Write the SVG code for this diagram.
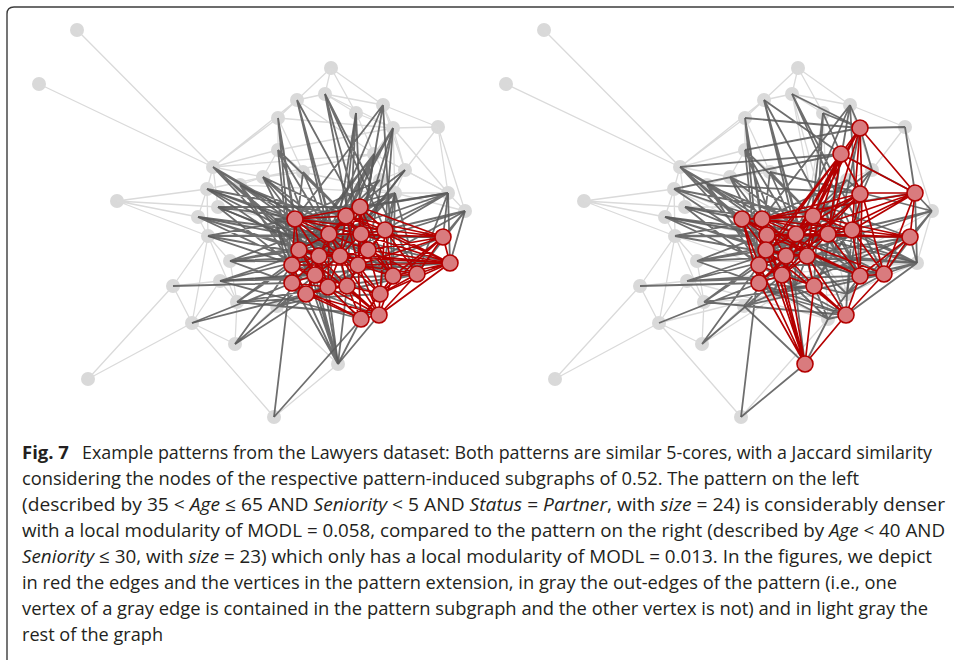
<svg xmlns="http://www.w3.org/2000/svg" width="954" height="660" viewBox="0 0 954 660">
<style>
.lt{fill:none;stroke:#dadada;stroke-width:1.3}
.dk{fill:none;stroke:#5a5a5a;stroke-width:1.8;stroke-opacity:.88}
.rd{fill:none;stroke:#b40000;stroke-width:1.7}
.gn{fill:#d9d9d9}
.rn{fill:#d97b7e;stroke:#b40000;stroke-width:1.6}
.frame{fill:none;stroke:#3c3c3c;stroke-width:1.4}
.cap{font-family:"Open Sans","Liberation Sans",sans-serif;font-size:18.5px;fill:#231f20}
.b{font-weight:bold}
.i{font-style:italic}
</style>
<defs>
<!-- edge sets, grouped by how their endpoints relate to the two patterns -->
<path id="e-pp" d="M77 30L213 167M39 84L213 167M331 68L297 100M331 68L325 94M331 68L356 113M331 68L383 105M325 94L297 100M325 94L356 113M297 100L278 118M278 118L213 167M278 118L278 150M278 150L213 167M438 127L405 170M438 127L465 211M383 105L438 127M405 170L380 180M213 167L207 189M213 167L218 207M213 167L240 185M117 201L207 189M117 201L198 217M117 201L218 207M207 189L198 217M198 217L208 236M208 236L230 261M208 236L173 286M173 286L220 281M173 286L192 323M192 323L88 379M173 286L88 379M192 323L235 344M192 323L274 417M208 236L237 302M230 261L237 302M220 281L237 302M237 302L277 306M303 172L263 177M263 177L240 185M278 150L303 172M278 118L303 172M213 167L263 177M383 105L405 170M213 167L297 100M207 189L208 236M208 236L192 323M117 201L208 236M220 281L192 323M237 302L235 344M277 306L235 344M278 150L263 177M325 94L383 105"/>
<path id="e-pro" d="M383 105L393 128M356 113L393 128M393 128L438 127M438 127L448 193M405 170L448 193M448 193L465 211M277 306L338 364M274 417L338 364M405 170L395 193M395 193L465 211M393 128L405 170M356 113L374 154M374 154L405 170M218 207L275 219M198 217L300 235M325 94L393 128M278 150L393 128M213 167L374 154M263 177L374 154M207 189L374 154M240 185L395 193M278 118L393 128M297 100L374 154M380 180L395 193M303 172L395 193"/>
<path id="e-roro" d="M395 193L448 193M300 235L275 219M393 128L374 154M393 128L395 193M393 128L448 193M374 154L395 193M374 154L448 193M338 364L300 235"/>
<path id="e-pb" d="M297 100L329 234M297 100L340 256M297 100L347 286M325 94L385 230M383 105L319 256M383 105L361 234M383 105L295 219M356 113L340 256M278 118L295 219M278 118L299 250M278 118L292 265M278 150L319 256M278 150L329 234M278 150L292 283M405 170L340 256M405 170L299 250M303 172L292 265M303 172L361 234M303 172L340 256M263 177L346 216M263 177L393 276M380 180L319 256M380 180L295 219M380 180L292 265M240 185L361 234M240 185L340 256M213 167L329 234M213 167L347 286M213 167L315 275M207 189L346 216M198 217L393 276M198 217L347 286M218 207L385 230M208 236L443 237M208 236L417 274M230 261L385 230M230 261L379 315M220 281L393 276M173 286L292 283M237 302L417 274M237 302L379 315M277 306L443 237M277 306L417 274M277 306L379 315M235 344L292 265M274 417L292 265M465 211L299 250M465 211L292 265M465 211L443 237M465 211L417 274M207 189L295 219M207 189L299 250M198 217L319 256M198 217L329 234M218 207L292 265M218 207L340 256M208 236L295 219M208 236L319 256M208 236L361 234M230 261L299 250M230 261L346 216M230 261L340 256M220 281L315 275M220 281L319 256M220 281L361 234M237 302L292 265M237 302L329 234M263 177L299 250M263 177L295 219M240 185L292 265M240 185L315 275M213 167L295 219M213 167L319 256M277 306L319 256M235 344L315 275M192 323L292 283M303 172L346 216M278 150L346 216M297 100L393 276M325 94L417 274M383 105L393 276M356 113L347 286"/>
<path id="e-plo" d="M325 94L368 250M325 94L358 265M356 113L360 207M356 113L328 287M405 170L306 294M263 177L358 265M240 185L368 250M207 189L358 265M207 189L368 250M465 211L328 287M465 211L450 263M198 217L368 250M218 207L358 265M218 207L360 207M208 236L380 294M230 261L450 263M220 281L450 263M220 281L361 319M237 302L380 294M192 323L306 294M235 344L358 265M274 417L361 319"/>
<path id="e-bro" d="M393 128L329 234M393 128L346 216M393 128L315 275M374 154L346 216M374 154L299 250M374 154L292 265M395 193L295 219M395 193L299 250M395 193L315 275M395 193L292 283M448 193L295 219M448 193L329 234M448 193L319 256M275 219L417 274M275 219L393 276M300 235L443 237M300 235L393 276M338 364L319 256M338 364L292 265M338 364L315 275M338 364L292 283M338 364L347 286M338 364L295 219M338 364L299 250M374 154L361 234M374 154L319 256M374 154L340 256M374 154L329 234M395 193L385 230M395 193L393 276M395 193L417 274M448 193L417 274M448 193L443 237M275 219L295 219M275 219L299 250M275 219L292 265M275 219L292 283M275 219L346 216M300 235L295 219M300 235L299 250M300 235L292 265M300 235L329 234M338 364L379 315M393 128L385 230M448 193L385 230M395 193L346 216M393 128L361 234"/>
<path id="e-loro" d="M448 193L450 263M275 219L450 263M338 364L328 287M338 364L361 319M374 154L358 265M395 193L380 294M393 128L368 250M448 193L360 207"/>
<path id="e-bb" d="M295 219L346 216M295 219L329 234M295 219L299 250M295 219L319 256M295 219L292 265M295 219L361 234M295 219L340 256M295 219L443 237M346 216L329 234M346 216L361 234M346 216L385 230M346 216L340 256M346 216L319 256M346 216L443 237M329 234L361 234M329 234L319 256M329 234L340 256M329 234L299 250M329 234L443 237M361 234L385 230M361 234L340 256M361 234L443 237M361 234L393 276M385 230L443 237M385 230L393 276M385 230L417 274M443 237L393 276M443 237L417 274M299 250L319 256M299 250L292 265M299 250L315 275M299 250L340 256M299 250L292 283M319 256L340 256M319 256L292 265M319 256L315 275M319 256L347 286M319 256L292 283M340 256L347 286M340 256L315 275M292 265L315 275M292 265L292 283M315 275L292 283M315 275L347 286M393 276L417 274M393 276L379 315M417 274L379 315M347 286L379 315M379 315L340 256M379 315L299 250"/>
<path id="e-blo" d="M295 219L360 207M346 216L360 207M346 216L368 250M346 216L358 265M346 216L450 263M360 207L361 234M360 207L385 230M360 207L443 237M360 207L340 256M360 207L329 234M360 207L393 276M329 234L368 250M329 234L358 265M329 234L328 287M361 234L368 250M361 234L358 265M361 234L450 263M385 230L368 250M385 230L450 263M385 230L358 265M385 230L380 294M443 237L450 263M443 237L368 250M443 237L358 265M443 237L380 294M299 250L328 287M299 250L450 263M319 256L328 287M319 256L306 294M319 256L450 263M340 256L368 250M340 256L358 265M340 256L328 287M340 256L380 294M368 250L393 276M368 250L417 274M368 250L347 286M292 265L306 294M292 265L358 265M292 265L328 287M358 265L393 276M358 265L347 286M358 265L417 274M358 265L379 315M450 263L393 276M450 263L417 274M450 263L379 315M315 275L328 287M315 275L306 294M315 275L361 319M393 276L380 294M393 276L361 319M417 274L380 294M292 283L306 294M292 283L328 287M292 283L361 319M328 287L347 286M328 287L379 315M347 286L380 294M347 286L361 319M347 286L306 294M306 294L379 315M380 294L379 315M361 319L379 315"/>
<path id="e-lolo" d="M360 207L368 250M360 207L358 265M368 250L358 265M368 250L450 263M368 250L380 294M358 265L380 294M358 265L450 263M358 265L361 319M450 263L380 294M328 287L306 294M328 287L361 319M306 294L361 319M380 294L361 319"/>
</defs>

<path class="frame" d="M7 660V14Q7 7 14 7H954"/>

<!-- left graph: pattern 35 < Age <= 65, Seniority < 5, Status = Partner -->
<g id="graph-left">
<g id="nodes-left-gray">
<g id="l-G1"><circle class="gn" cx="77" cy="30" r="7"/></g>
<g id="l-G2"><circle class="gn" cx="39" cy="84" r="7"/></g>
<g id="l-G3"><circle class="gn" cx="331" cy="68" r="7"/></g>
<g id="l-G4"><circle class="gn" cx="325" cy="94" r="7"/></g>
<g id="l-G5"><circle class="gn" cx="297" cy="100" r="7"/></g>
<g id="l-G6"><circle class="gn" cx="383" cy="105" r="7"/></g>
<g id="l-G7"><circle class="gn" cx="356" cy="113" r="7"/></g>
<g id="l-G8"><circle class="gn" cx="278" cy="118" r="7"/></g>
<g id="l-N9"><circle class="gn" cx="393" cy="128" r="7"/></g>
<g id="l-G10"><circle class="gn" cx="438" cy="127" r="7"/></g>
<g id="l-G11"><circle class="gn" cx="278" cy="150" r="7"/></g>
<g id="l-Nb"><circle class="gn" cx="374" cy="154" r="7"/></g>
<g id="l-G12"><circle class="gn" cx="213" cy="167" r="7"/></g>
<g id="l-G13"><circle class="gn" cx="405" cy="170" r="7"/></g>
<g id="l-G14"><circle class="gn" cx="303" cy="172" r="7"/></g>
<g id="l-G15"><circle class="gn" cx="263" cy="177" r="7"/></g>
<g id="l-H1"><circle class="gn" cx="380" cy="180" r="7"/></g>
<g id="l-G17"><circle class="gn" cx="240" cy="185" r="7"/></g>
<g id="l-G16"><circle class="gn" cx="207" cy="189" r="7"/></g>
<g id="l-Nc"><circle class="gn" cx="395" cy="193" r="7"/></g>
<g id="l-N19"><circle class="gn" cx="448" cy="193" r="7"/></g>
<g id="l-G18"><circle class="gn" cx="117" cy="201" r="7"/></g>
<g id="l-G22"><circle class="gn" cx="218" cy="207" r="7"/></g>
<g id="l-G20"><circle class="gn" cx="465" cy="211" r="7"/></g>
<g id="l-G21"><circle class="gn" cx="198" cy="217" r="7"/></g>
<g id="l-Ne"><circle class="gn" cx="275" cy="219" r="7"/></g>
<g id="l-Nh"><circle class="gn" cx="300" cy="235" r="7"/></g>
<g id="l-G23"><circle class="gn" cx="208" cy="236" r="7"/></g>
<g id="l-G24"><circle class="gn" cx="230" cy="261" r="7"/></g>
<g id="l-G26"><circle class="gn" cx="220" cy="281" r="7"/></g>
<g id="l-G25"><circle class="gn" cx="173" cy="286" r="7"/></g>
<g id="l-G27"><circle class="gn" cx="237" cy="302" r="7"/></g>
<g id="l-G28"><circle class="gn" cx="277" cy="306" r="7"/></g>
<g id="l-G29"><circle class="gn" cx="192" cy="323" r="7"/></g>
<g id="l-G30"><circle class="gn" cx="235" cy="344" r="7"/></g>
<g id="l-N31"><circle class="gn" cx="338" cy="364" r="7"/></g>
<g id="l-G32"><circle class="gn" cx="88" cy="379" r="7"/></g>
<g id="l-G33"><circle class="gn" cx="274" cy="417" r="7"/></g>
</g>
<g id="connectors-left">
<use href="#e-pp" class="lt"/><use href="#e-pro" class="lt"/><use href="#e-roro" class="lt"/>
<use href="#e-pb" class="dk"/><use href="#e-plo" class="dk"/><use href="#e-bro" class="dk"/><use href="#e-loro" class="dk"/>
<use href="#e-bb" class="rd"/><use href="#e-blo" class="rd"/><use href="#e-lolo" class="rd"/>
</g>
<g id="nodes-left-red">
<g id="l-R1"><circle class="rn" cx="295" cy="219" r="8"/></g>
<g id="l-R2"><circle class="rn" cx="346" cy="216" r="8"/></g>
<g id="l-R3"><circle class="rn" cx="360" cy="207" r="8"/></g>
<g id="l-R4"><circle class="rn" cx="329" cy="234" r="8"/></g>
<g id="l-R5"><circle class="rn" cx="361" cy="234" r="8"/></g>
<g id="l-R6"><circle class="rn" cx="385" cy="230" r="8"/></g>
<g id="l-R7"><circle class="rn" cx="443" cy="237" r="8"/></g>
<g id="l-R8"><circle class="rn" cx="299" cy="250" r="8"/></g>
<g id="l-R9"><circle class="rn" cx="319" cy="256" r="8"/></g>
<g id="l-R10"><circle class="rn" cx="340" cy="256" r="8"/></g>
<g id="l-R11"><circle class="rn" cx="368" cy="250" r="8"/></g>
<g id="l-R12"><circle class="rn" cx="292" cy="265" r="8"/></g>
<g id="l-R13"><circle class="rn" cx="358" cy="265" r="8"/></g>
<g id="l-R14"><circle class="rn" cx="450" cy="263" r="8"/></g>
<g id="l-R15"><circle class="rn" cx="315" cy="275" r="8"/></g>
<g id="l-R16"><circle class="rn" cx="393" cy="276" r="8"/></g>
<g id="l-R17"><circle class="rn" cx="417" cy="274" r="8"/></g>
<g id="l-R18"><circle class="rn" cx="292" cy="283" r="8"/></g>
<g id="l-R19"><circle class="rn" cx="328" cy="287" r="8"/></g>
<g id="l-R20"><circle class="rn" cx="347" cy="286" r="8"/></g>
<g id="l-R21"><circle class="rn" cx="306" cy="294" r="8"/></g>
<g id="l-R22"><circle class="rn" cx="380" cy="294" r="8"/></g>
<g id="l-R23"><circle class="rn" cx="361" cy="319" r="8"/></g>
<g id="l-R24"><circle class="rn" cx="379" cy="315" r="8"/></g>
</g>
</g>

<!-- right graph: same layout, pattern Age < 40, Seniority <= 30 -->
<g id="graph-right" transform="translate(467,0)">
<g id="nodes-right-gray">
<g id="r-G1"><circle class="gn" cx="77" cy="30" r="7"/></g>
<g id="r-G2"><circle class="gn" cx="39" cy="84" r="7"/></g>
<g id="r-G3"><circle class="gn" cx="331" cy="68" r="7"/></g>
<g id="r-G4"><circle class="gn" cx="325" cy="94" r="7"/></g>
<g id="r-G5"><circle class="gn" cx="297" cy="100" r="7"/></g>
<g id="r-G6"><circle class="gn" cx="383" cy="105" r="7"/></g>
<g id="r-G7"><circle class="gn" cx="356" cy="113" r="7"/></g>
<g id="r-G8"><circle class="gn" cx="278" cy="118" r="7"/></g>
<g id="r-G10"><circle class="gn" cx="438" cy="127" r="7"/></g>
<g id="r-G11"><circle class="gn" cx="278" cy="150" r="7"/></g>
<g id="r-G12"><circle class="gn" cx="213" cy="167" r="7"/></g>
<g id="r-G13"><circle class="gn" cx="405" cy="170" r="7"/></g>
<g id="r-G14"><circle class="gn" cx="303" cy="172" r="7"/></g>
<g id="r-G15"><circle class="gn" cx="263" cy="177" r="7"/></g>
<g id="r-H1"><circle class="gn" cx="380" cy="180" r="7"/></g>
<g id="r-G17"><circle class="gn" cx="240" cy="185" r="7"/></g>
<g id="r-G16"><circle class="gn" cx="207" cy="189" r="7"/></g>
<g id="r-G18"><circle class="gn" cx="117" cy="201" r="7"/></g>
<g id="r-G22"><circle class="gn" cx="218" cy="207" r="7"/></g>
<g id="r-G20"><circle class="gn" cx="465" cy="211" r="7"/></g>
<g id="r-G21"><circle class="gn" cx="198" cy="217" r="7"/></g>
<g id="r-G23"><circle class="gn" cx="208" cy="236" r="7"/></g>
<g id="r-G24"><circle class="gn" cx="230" cy="261" r="7"/></g>
<g id="r-G26"><circle class="gn" cx="220" cy="281" r="7"/></g>
<g id="r-G25"><circle class="gn" cx="173" cy="286" r="7"/></g>
<g id="r-G27"><circle class="gn" cx="237" cy="302" r="7"/></g>
<g id="r-G28"><circle class="gn" cx="277" cy="306" r="7"/></g>
<g id="r-G29"><circle class="gn" cx="192" cy="323" r="7"/></g>
<g id="r-G30"><circle class="gn" cx="235" cy="344" r="7"/></g>
<g id="r-G32"><circle class="gn" cx="88" cy="379" r="7"/></g>
<g id="r-G33"><circle class="gn" cx="274" cy="417" r="7"/></g>
<g id="r-R3"><circle class="gn" cx="360" cy="207" r="7"/></g>
<g id="r-R11"><circle class="gn" cx="368" cy="250" r="7"/></g>
<g id="r-R13"><circle class="gn" cx="358" cy="265" r="7"/></g>
<g id="r-R14"><circle class="gn" cx="450" cy="263" r="7"/></g>
<g id="r-R19"><circle class="gn" cx="328" cy="287" r="7"/></g>
<g id="r-R21"><circle class="gn" cx="306" cy="294" r="7"/></g>
<g id="r-R22"><circle class="gn" cx="380" cy="294" r="7"/></g>
<g id="r-R23"><circle class="gn" cx="361" cy="319" r="7"/></g>
</g>
<g id="connectors-right">
<use href="#e-pp" class="lt"/><use href="#e-plo" class="lt"/><use href="#e-lolo" class="lt"/>
<use href="#e-pb" class="dk"/><use href="#e-pro" class="dk"/><use href="#e-blo" class="dk"/><use href="#e-loro" class="dk"/>
<use href="#e-bb" class="rd"/><use href="#e-bro" class="rd"/><use href="#e-roro" class="rd"/>
</g>
<g id="nodes-right-red">
<g id="r-N9"><circle class="rn" cx="393" cy="128" r="8"/></g>
<g id="r-Nb"><circle class="rn" cx="374" cy="154" r="8"/></g>
<g id="r-Nc"><circle class="rn" cx="393" cy="194" r="8"/></g>
<g id="r-N19"><circle class="rn" cx="448" cy="193" r="8"/></g>
<g id="r-Ne"><circle class="rn" cx="275" cy="219" r="8"/></g>
<g id="r-Nh"><circle class="rn" cx="300" cy="235" r="8"/></g>
<g id="r-N31"><circle class="rn" cx="338" cy="364" r="8"/></g>
<g id="r-R1"><circle class="rn" cx="295" cy="219" r="8"/></g>
<g id="r-R2"><circle class="rn" cx="346" cy="216" r="8"/></g>
<g id="r-R4"><circle class="rn" cx="329" cy="234" r="8"/></g>
<g id="r-R5"><circle class="rn" cx="361" cy="234" r="8"/></g>
<g id="r-R6"><circle class="rn" cx="385" cy="230" r="8"/></g>
<g id="r-R7"><circle class="rn" cx="443" cy="237" r="8"/></g>
<g id="r-R8"><circle class="rn" cx="299" cy="250" r="8"/></g>
<g id="r-R9"><circle class="rn" cx="319" cy="256" r="8"/></g>
<g id="r-R10"><circle class="rn" cx="340" cy="256" r="8"/></g>
<g id="r-R12"><circle class="rn" cx="292" cy="265" r="8"/></g>
<g id="r-R15"><circle class="rn" cx="315" cy="275" r="8"/></g>
<g id="r-R16"><circle class="rn" cx="393" cy="276" r="8"/></g>
<g id="r-R17"><circle class="rn" cx="417" cy="274" r="8"/></g>
<g id="r-R18"><circle class="rn" cx="292" cy="283" r="8"/></g>
<g id="r-R20"><circle class="rn" cx="347" cy="286" r="8"/></g>
<g id="r-R24"><circle class="rn" cx="379" cy="315" r="8"/></g>
</g>
</g>

<!-- caption -->
<g id="caption" class="cap">
<text x="22" y="459" class="b">Fig. 7</text>
<text x="82" y="459" textLength="850" lengthAdjust="spacingAndGlyphs">Example patterns from the Lawyers dataset: Both patterns are similar 5-cores, with a Jaccard similarity</text>
<text x="22" y="485" textLength="837" lengthAdjust="spacingAndGlyphs">considering the nodes of the respective pattern-induced subgraphs of 0.52. The pattern on the left</text>
<text x="22" y="511" textLength="923" lengthAdjust="spacingAndGlyphs">(described by 35 &lt; <tspan class="i">Age</tspan> ≤ 65 AND <tspan class="i">Seniority</tspan> &lt; 5 AND <tspan class="i">Status</tspan> = <tspan class="i">Partner</tspan>, with <tspan class="i">size</tspan> = 24) is considerably denser</text>
<text x="22" y="537" textLength="923" lengthAdjust="spacingAndGlyphs">with a local modularity of MODL = 0.058, compared to the pattern on the right (described by <tspan class="i">Age</tspan> &lt; 40 AND</text>
<text x="22" y="563" textLength="910" lengthAdjust="spacingAndGlyphs"><tspan class="i">Seniority</tspan> ≤ 30, with <tspan class="i">size</tspan> = 23) which only has a local modularity of MODL = 0.013. In the figures, we depict</text>
<text x="22" y="589" textLength="875" lengthAdjust="spacingAndGlyphs">in red the edges and the vertices in the pattern extension, in gray the out-edges of the pattern (i.e., one</text>
<text x="22" y="615" textLength="906" lengthAdjust="spacingAndGlyphs">vertex of a gray edge is contained in the pattern subgraph and the other vertex is not) and in light gray the</text>
<text x="22" y="641" textLength="141" lengthAdjust="spacingAndGlyphs">rest of the graph</text>
</g>
</svg>
